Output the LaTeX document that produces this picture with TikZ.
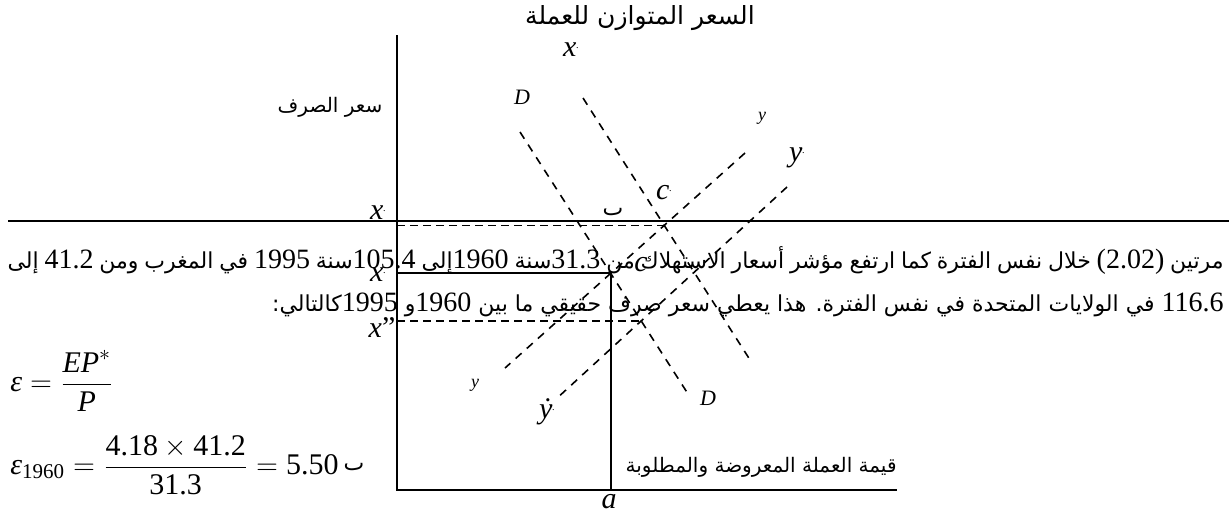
\documentclass[tikz,border=0pt]{standalone}
\usepackage{amsmath}
\usepackage{fontspec}
\setmainfont{Liberation Serif}
\newfontfamily\arabicfont[Script=Arabic]{DejaVu Sans}
\TeXXeTstate=1
\usetikzlibrary{positioning, intersections}

\newcommand{\latnum}[1]{{\fontsize{14}{16}\selectfont\rmfamily #1}}
\newcommand{\tick}{\raisebox{0.6ex}{\fontsize{5}{5}\selectfont.}}

\begin{document}
\begin{tikzpicture}[x=0.5pt, y=-0.5pt,
    axis/.style={line width=1.1pt},
    pagerule/.style={line width=1.4pt},
    guide/.style={line width=0.8pt, dash pattern=on 4pt off 2.5pt},
    curve/.style={line width=0.8pt, dash pattern=on 4pt off 3.5pt},
    lbl/.style={inner sep=0pt, font=\fontsize{15}{15}\selectfont\itshape},
    tinylbl/.style={inner sep=0pt, font=\fontsize{9}{9}\selectfont\itshape},
    artxt/.style={inner sep=0pt, font=\arabicfont\fontsize{11}{13}\selectfont}]
        \useasboundingbox (0,0) rectangle (1229,516);

        % Axes
        \coordinate (origin) at (397,490);
        \coordinate (ytop) at (397,35);
        \coordinate (xend) at (897,490);
        \draw[axis] (ytop) -- (origin) -- (xend);

        % Page rule
        \coordinate (ruleL) at (8,221);
        \coordinate (ruleR) at (1229,221);
        \draw[pagerule] (ruleL) -- (ruleR);

        % Demand and supply lines
        \coordinate (d1a) at (520,132); \coordinate (d1b) at (690,397);
        \coordinate (d2a) at (583,98);  \coordinate (d2b) at (752,363);
        \coordinate (s1a) at (745,153); \coordinate (s1b) at (505,368);
        \coordinate (s2a) at (787,187); \coordinate (s2b) at (555,400);
        \draw[curve, name path=D1] (d1a) -- (d1b);
        \draw[curve, name path=D2] (d2a) -- (d2b);
        \draw[curve, name path=S1] (s1a) -- (s1b);
        \draw[curve, name path=S2] (s2a) -- (s2b);
        \path[name intersections={of=D2 and S1, by=cpt}];
        \path[name intersections={of=D1 and S1, by=apt}];
        \path[name intersections={of=D1 and S2, by=dpt}];

        % Guides
        \draw[guide] (origin |- cpt) -- (cpt);
        \draw[axis] (origin |- apt) -- (apt) -- (origin -| apt);
        \draw[guide] (origin |- dpt) -- (dpt);

        % Labels
        \node[lbl] (xtop) at (571,50) {x\tick};
        \node[lbl, font=\fontsize{11}{11}\selectfont\itshape] (bone) at (522,97) {D};
        \node[tinylbl] (yone) at (762,118) {y};
        \node[lbl] (ytwo) at (797,158) {y\tick};
        \node[lbl] (cone) at (664,193) {c\tick};
        \node[lbl] (xone) at (378,213) {x\tick};
        \node[artxt] (markone) at (613,212) {ٮ};
        \node[lbl] (xtwo) at (378,275) {x\tick};
        \node[lbl] (ctwo) at (641,265) {c};
        \node[lbl] (xthree) at (382,328) {x{\upshape\symbol{34}}};
        \node[tinylbl] (ythree) at (475,385) {y};
        \node[lbl] (yfour) at (547,412) {\.{y}\tick};
        \node[lbl, font=\fontsize{11}{11}\selectfont\itshape] (btwo) at (708,398) {D};
        \node[lbl] (alab) at (609,502) {a};
        \node[artxt] (marktwo) at (354,467) {ٮ};

        % Axis titles
        \node[artxt, font=\arabicfont\fontsize{12.5}{15}\selectfont] (title) at (640,18) {\beginR السعر المتوازن للعملة\endR};
        \node[artxt, font=\arabicfont\fontsize{10}{12}\selectfont] (ytitle) at (330,107) {\beginR سعر الصرف\endR};
        \node[artxt, font=\arabicfont\fontsize{10}{12}\selectfont, anchor=east] (xtitle) at (897,467) {\beginR قيمة العملة المعروضة والمطلوبة\endR};

        % Text rows
        \node[artxt, anchor=base east] (rowone) at (1224,268) {\hbox to 608pt{\beginR مرتين \latnum{(2.02)} خلال نفس الفترة كما ارتفع مؤشر أسعار الاستهلاك من \latnum{31.3}سنة \latnum{1960}إلى \latnum{105.4}سنة \latnum{1995} في المغرب ومن \latnum{41.2} إلى\endR}};
        \node[artxt, anchor=base east] (rowtwo) at (1224,311) {\beginR\latnum{116.6} في الولايات المتحدة في نفس الفترة{}. هذا يعطي سعر صرف حقيقي ما بين \latnum{1960}و \latnum{1995}كالتالي{}:\endR};

        % Equations
        \node[inner sep=0pt, anchor=west, font=\fontsize{15}{18}\selectfont] (eqone) at (10,381) {$\textit{ε} = \dfrac{\textit{EP}^{*}}{\textit{P}}$};
        \node[inner sep=0pt, anchor=west, font=\fontsize{15}{18}\selectfont] (eqtwo) at (10,465) {$\textit{ε}_{\text{1960}} = \dfrac{\text{4.18}\times\text{41.2}}{\text{31.3}} = \text{5.50}$};

    \end{tikzpicture}
\end{document}
